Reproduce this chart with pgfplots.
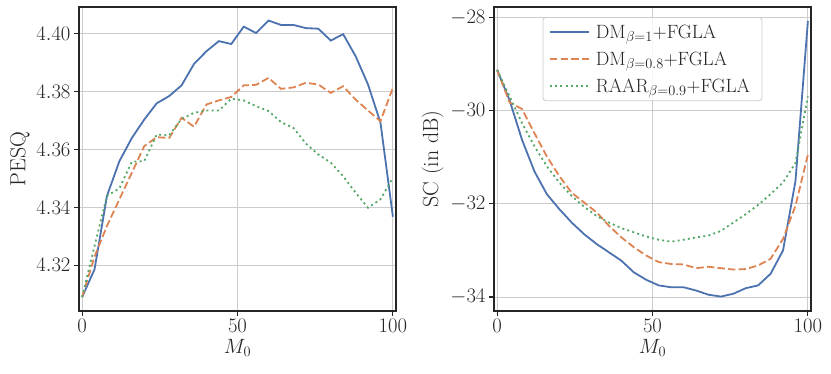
\documentclass[border=0pt]{standalone}
\usepackage{pgfplots}
\pgfplotsset{compat=1.18}
\definecolor{sbblue}{HTML}{4C72B0}
\definecolor{sborange}{HTML}{DD8452}
\definecolor{sbgreen}{HTML}{55A868}

\pgfplotsset{
  sbstyle/.style={
    scale only axis, width=317bp, height=304bp,
    xmin=-1, xmax=101,
    xtick={0,50,100},
    grid=major, major grid style={black!20, line width=0.9bp},
    axis line style={black!85, line width=2.2bp},
    tick align=outside, tickpos=left, major tick length=5bp,
    tick style={black!85, line width=1.1bp},
    ticklabel style={font=\fontsize{22}{26}\selectfont, text=black!85},
    label style={font=\fontsize{22}{26}\selectfont, text=black!85},
    xlabel={$M_0$},
    legend image code/.code={\draw[line width=1.8bp,#1] plot coordinates {(0bp,0bp) (20bp,0bp) (39bp,0bp)};},
  },
  dmone/.style={sbblue, line width=1.8bp},
  dmeight/.style={sborange, line width=1.8bp, dash pattern=on 7.4bp off 3.2bp},
  raar/.style={sbgreen, line width=1.8bp, dash pattern=on 2bp off 3.2bp},
}

\begin{document}
\begin{tikzpicture}
\useasboundingbox (-79bp,-63bp) rectangle (752bp,311bp);

% left: PESQ
\begin{axis}[sbstyle,
    ymin=4.3042, ymax=4.4093,
    ytick={4.32,4.34,4.36,4.38,4.40},
    yticklabel style={/pgf/number format/fixed, /pgf/number format/precision=2, /pgf/number format/fixed zerofill},
    ylabel={PESQ},
]
\addplot[dmone] coordinates {
(0,4.309) (4,4.3186) (8,4.344) (12,4.356) (16,4.364) (20,4.3704) (24,4.376)
(28,4.3785) (32,4.3822) (36,4.3896) (40,4.394) (44,4.3975) (48,4.3965)
(52,4.4025) (56,4.4003) (60,4.4046) (64,4.4031) (68,4.4031) (72,4.402)
(76,4.4018) (80,4.3977) (84,4.3999) (88,4.3923) (92,4.3825) (96,4.3693)
(100,4.3368)
};
\addplot[dmeight] coordinates {
(0,4.309) (4,4.323) (8,4.3336) (12,4.3428) (16,4.352) (20,4.3612) (24,4.3643)
(28,4.364) (32,4.371) (36,4.3679) (40,4.3756) (44,4.377) (48,4.3782)
(52,4.3822) (56,4.3824) (60,4.3848) (64,4.381) (68,4.3815) (72,4.3831)
(76,4.3825) (80,4.3796) (84,4.3819) (88,4.3773) (92,4.3735) (96,4.3698)
(100,4.3814)
};
\addplot[raar] coordinates {
(0,4.309) (4,4.3267) (8,4.344) (12,4.3466) (16,4.3558) (20,4.356) (24,4.3652)
(28,4.3649) (32,4.3706) (36,4.3727) (40,4.3735) (44,4.3735) (48,4.3776)
(52,4.377) (56,4.375) (60,4.3733) (64,4.3695) (68,4.3675) (72,4.3621)
(76,4.3583) (80,4.3555) (84,4.3508) (88,4.3451) (92,4.3399) (96,4.3428)
(100,4.3503)
};
\end{axis}

% right: SC
\begin{axis}[sbstyle, at={(415bp,0bp)},
    ymin=-34.30, ymax=-27.77,
    ytick={-34,-32,-30,-28},
    ylabel={SC (in dB)},
    legend style={at={(0.5,0.967)}, anchor=north, draw=black!20, line width=0.8bp,
      rounded corners=3bp, fill=white, fill opacity=0.8, text opacity=1,
      font=\fontsize{19.3}{23}\selectfont, text=black!85,
      row sep=8bp, inner xsep=6bp, inner ysep=5bp,
      nodes={inner xsep=6bp}},
    legend cell align=left,
]
\addplot[dmone] coordinates {
(0,-29.12) (4,-29.77) (8,-30.62) (12,-31.30) (16,-31.79) (20,-32.11) (24,-32.40)
(28,-32.65) (32,-32.86) (36,-33.04) (40,-33.22) (44,-33.47) (48,-33.63)
(52,-33.75) (56,-33.79) (60,-33.79) (64,-33.86) (68,-33.95) (72,-33.99)
(76,-33.93) (80,-33.81) (84,-33.75) (88,-33.50) (92,-33.00) (96,-31.51)
(100,-28.07)
};
\addlegendentry{DM$_{\beta=1}$+FGLA}
\addplot[dmeight] coordinates {
(0,-29.12) (4,-29.82) (8,-29.96) (12,-30.48) (16,-30.98) (20,-31.40) (24,-31.76)
(28,-31.97) (32,-32.18) (36,-32.47) (40,-32.72) (44,-32.93) (48,-33.11)
(52,-33.25) (56,-33.29) (60,-33.30) (64,-33.38) (68,-33.35) (72,-33.38)
(76,-33.41) (80,-33.40) (84,-33.32) (88,-33.18) (92,-32.75) (96,-32.04)
(100,-30.94)
};
\addlegendentry{DM$_{\beta=0.8}$+FGLA}
\addplot[raar] coordinates {
(0,-29.12) (4,-29.69) (8,-30.26) (12,-30.76) (16,-31.19) (20,-31.54) (24,-31.83)
(28,-32.06) (32,-32.26) (36,-32.40) (40,-32.52) (44,-32.61) (48,-32.70)
(52,-32.77) (56,-32.81) (60,-32.77) (64,-32.72) (68,-32.68) (72,-32.58)
(76,-32.40) (80,-32.22) (84,-32.02) (88,-31.79) (92,-31.54) (96,-31.12)
(100,-29.69)
};
\addlegendentry{RAAR$_{\beta=0.9}$+FGLA}
\end{axis}
\end{tikzpicture}
\end{document}
